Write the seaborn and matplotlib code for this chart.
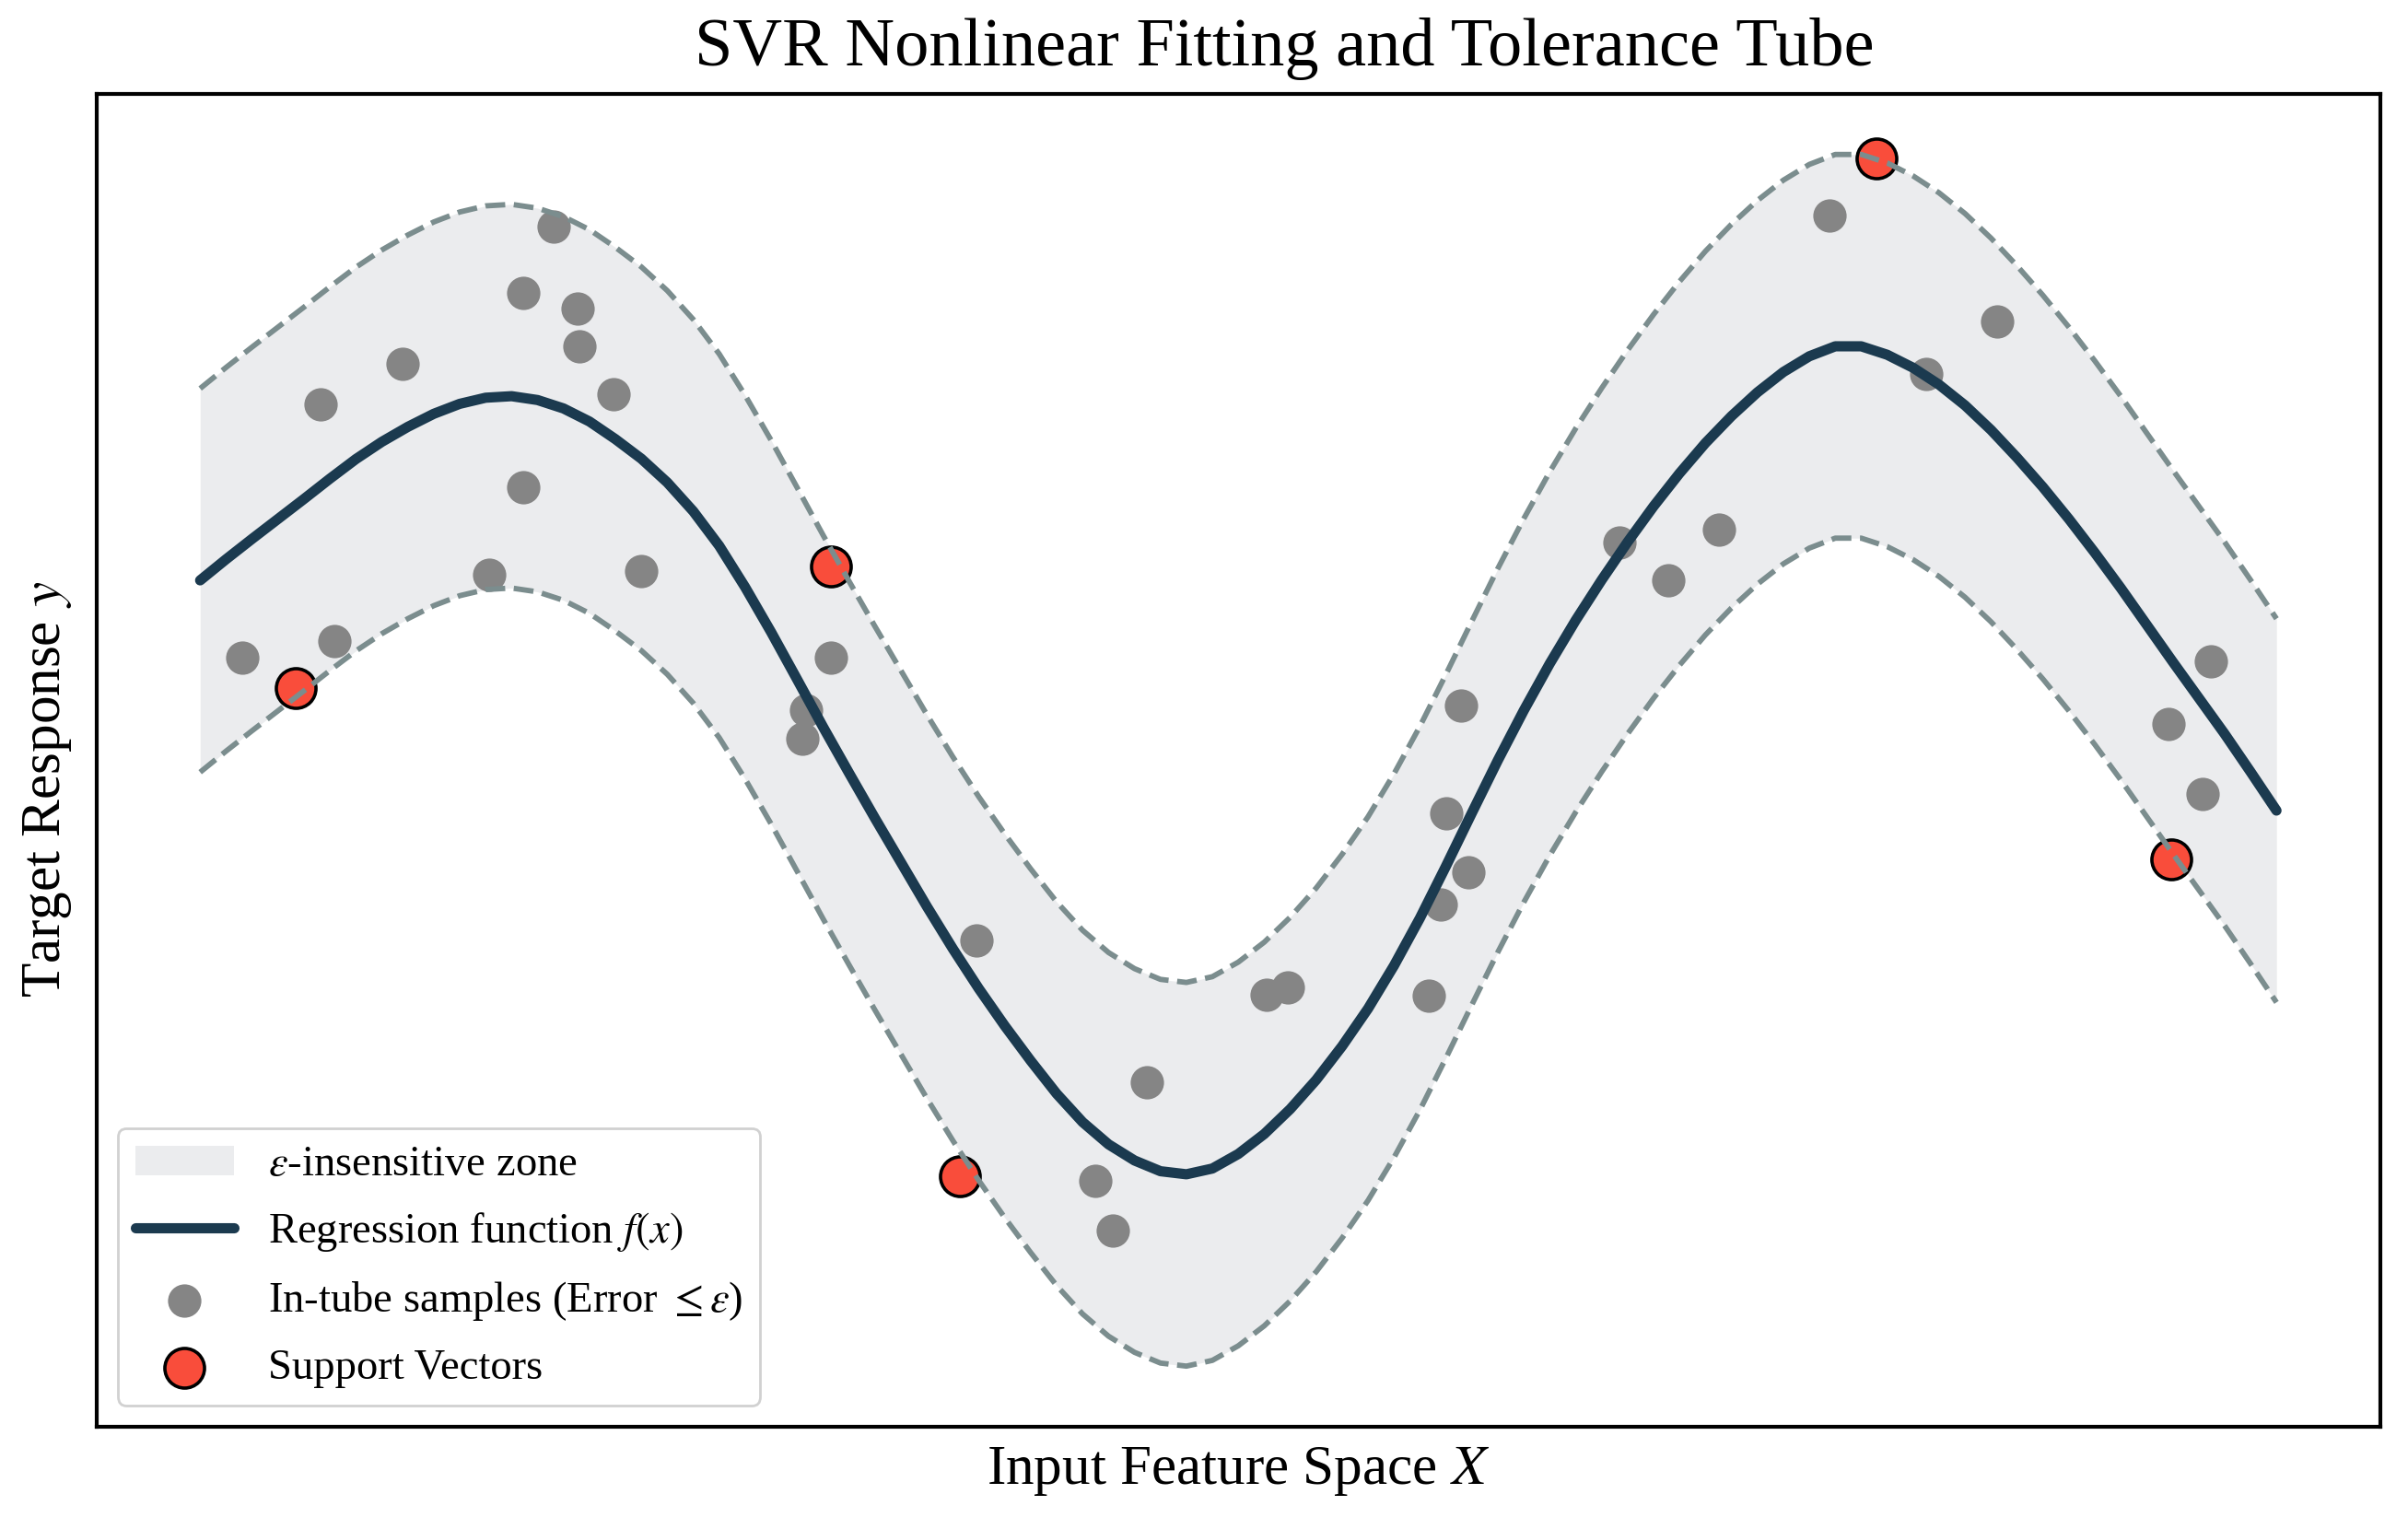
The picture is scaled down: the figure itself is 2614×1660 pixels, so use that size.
import numpy as np
import matplotlib
matplotlib.use("Agg")
import matplotlib.pyplot as plt
import seaborn as sns

# regression curve f(x), every 0.125 on x
x_grid = [0.0, 0.125, 0.25, 0.375, 0.5, 0.625, 0.75, 0.875, 1.0, 1.125,
          1.25, 1.375, 1.5, 1.625, 1.75, 1.875, 2.0, 2.125, 2.25, 2.375,
          2.5, 2.625, 2.75, 2.875, 3.0, 3.125, 3.25, 3.375, 3.5, 3.625,
          3.75, 3.875, 4.0, 4.125, 4.25, 4.375, 4.5, 4.625, 4.75, 4.875,
          5.0, 5.125, 5.25, 5.375, 5.5, 5.625, 5.75, 5.875, 6.0, 6.125,
          6.25, 6.375, 6.5, 6.625, 6.75, 6.875, 7.0, 7.125, 7.25, 7.375,
          7.5, 7.625, 7.75, 7.875, 8.0, 8.125, 8.25, 8.375, 8.5, 8.625,
          8.75, 8.875, 9.0, 9.125, 9.25, 9.375, 9.5, 9.625, 9.75, 9.875,
          10.0]
f_values = [0.540, 0.595, 0.648, 0.700, 0.752, 0.805, 0.856, 0.901, 0.940,
            0.974, 1.000, 1.016, 1.020, 1.010, 0.988, 0.954, 0.908, 0.857,
            0.795, 0.720, 0.630, 0.522, 0.405, 0.282, 0.158, 0.038, -0.080,
            -0.195, -0.310, -0.420, -0.524, -0.621, -0.712, -0.798, -0.872,
            -0.930, -0.972, -1.000, -1.008, -0.993, -0.955, -0.903, -0.838,
            -0.762, -0.674, -0.576, -0.464, -0.340, -0.205, -0.066, 0.071,
            0.201, 0.323, 0.436, 0.541, 0.640, 0.733, 0.819, 0.898, 0.968,
            1.030, 1.083, 1.124, 1.150, 1.150, 1.128, 1.094, 1.050, 0.996,
            0.932, 0.860, 0.783, 0.700, 0.612, 0.520, 0.424, 0.328, 0.234,
            0.140, 0.041, -0.060]
epsilon = 0.5

# samples inside the tube
in_x = [0.202, 0.581, 0.647, 0.977, 1.393, 1.558, 1.558, 1.701, 1.819, 1.828,
        1.993, 2.122, 3.040, 2.916, 2.900, 3.738, 4.558, 4.313, 4.394, 5.135,
        5.240, 5.917, 5.977, 6.110, 6.003, 6.071, 6.836, 7.072, 7.314, 7.847,
        8.315, 8.654, 9.686, 9.479, 9.646]
in_y = [0.338, 0.998, 0.381, 1.104, 0.554, 1.290, 0.783, 1.461, 1.249, 1.149,
        1.025, 0.565, 0.338, 0.202, 0.127, -0.399, -0.768, -1.024, -1.154,
        -0.540, -0.521, -0.543, -0.305, -0.220, -0.068, 0.213, 0.638, 0.541,
        0.672, 1.490, 1.077, 1.214, 0.330, 0.165, -0.017]

# support vectors (on the tube boundary)
sv_x = [0.462, 3.036, 3.659, 8.073, 9.493]
sv_y = [0.260, 0.576, -1.012, 1.640, -0.187]

sns.set_style("white")
plt.rcParams["font.family"] = "serif"
plt.rcParams["font.serif"] = ["Liberation Serif", "DejaVu Serif"]
plt.rcParams["mathtext.fontset"] = "stix"
plt.rcParams["text.color"] = "black"
plt.rcParams["axes.labelcolor"] = "black"

fig, ax = plt.subplots(figsize=(13.07, 8.3), dpi=200)
fig.subplots_adjust(left=0.040, right=0.9885, top=0.9386, bottom=0.0669)

f_arr = np.array(f_values)
upper = f_arr + epsilon
lower = f_arr - epsilon

ax.fill_between(x_grid, lower, upper, color="#bdc3c7", alpha=0.3, lw=0,
                zorder=1, label=r"$\varepsilon$-insensitive zone")
sns.lineplot(x=x_grid, y=f_values, ax=ax, color="#1b3a4f", lw=4.0,
             zorder=3, label=r"Regression function $f(x)$")
sns.scatterplot(x=in_x, y=in_y, ax=ax, s=170, color="#858585", linewidth=0,
                zorder=2, label=r"In-tube samples (Error $\leq\varepsilon$)")
sns.scatterplot(x=sv_x, y=sv_y, ax=ax, s=240, color="#f94d3b",
                edgecolor="black", linewidth=1.3, zorder=2,
                label="Support Vectors")
sns.lineplot(x=x_grid, y=upper, ax=ax, color="#7b8d8e", lw=2.1,
             linestyle="--", zorder=4)
sns.lineplot(x=x_grid, y=lower, ax=ax, color="#7b8d8e", lw=2.1,
             linestyle="--", zorder=4)

ax.set_xticks([])
ax.set_yticks([])
for sp in ax.spines.values():
    sp.set_visible(True)
    sp.set_color("black")
    sp.set_linewidth(1.5)

ax.set_title("SVR Nonlinear Fitting and Tolerance Tube", fontsize=26.8, pad=11,
             x=0.52)
ax.set_xlabel("Input Feature Space $X$", fontsize=22, labelpad=7)
ax.set_ylabel("Target Response $y$", fontsize=22, labelpad=9, y=0.478)

handles, labels = ax.get_legend_handles_labels()
ax.legend(handles, labels, loc="lower left", fontsize=16.8, frameon=True,
          fancybox=True, edgecolor="0.8", framealpha=0.9,
          handlelength=2.3, labelspacing=0.6)

plt.savefig("out.png", dpi=200)
